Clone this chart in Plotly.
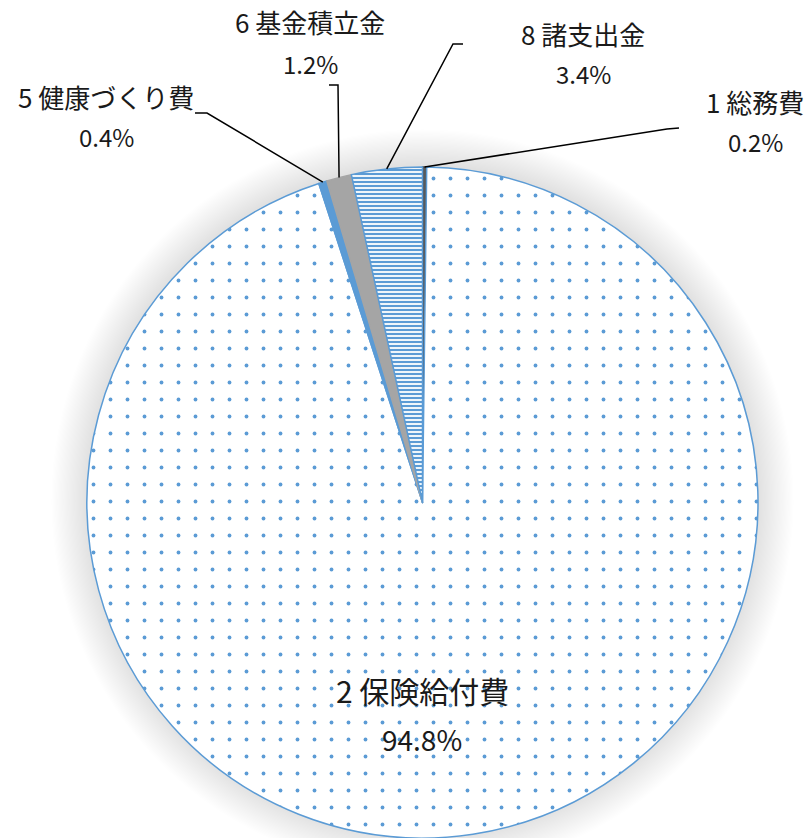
import math
import plotly.graph_objects as go

# ---- data ----
categories = ["1 総務費", "2 保険給付費", "5 健康づくり費", "6 基金積立金", "8 諸支出金"]
values = [0.2, 94.8, 0.4, 1.2, 3.4]

# ---- styles ----
slice_colors = ["#595959", "#FFFFFF", "#5B9BD5", "#A5A5A5", "#FFFFFF"]
pattern_shapes = ["", ".", "", "", "-"]
pattern_fg = ["#595959", "#5B9BD5", "#5B9BD5", "#A5A5A5", "#5B9BD5"]
pattern_bg = ["#595959", "#FFFFFF", "#5B9BD5", "#A5A5A5", "#FFFFFF"]
pattern_size = [8, 17, 8, 8, 4]
pattern_solidity = [0.3, 0.04, 0.12, 0.3, 0.55]
line_colors = ["#404040", "#5B9BD5", "#5B9BD5", "#A5A5A5", "#5B9BD5"]

W, H = 810, 838
FONT = "Noto Sans CJK JP"
TXT = "#1A1A1A"

# pie domain (pixels)
px_left, px_right = 87, 758
py_top, py_bottom = 167, 838
dom_x = [px_left / W, px_right / W]
dom_y = [1 - py_bottom / H, 1 - py_top / H]

cx = (px_left + px_right) / 2
cy = (py_top + py_bottom) / 2
R = min(px_right - px_left, py_bottom - py_top) / 2

fig = go.Figure(go.Pie(
    labels=categories,
    values=values,
    sort=False,
    direction="clockwise",
    rotation=0,
    textinfo="none",
    hoverinfo="label+percent",
    domain=dict(x=dom_x, y=dom_y),
    marker=dict(
        colors=slice_colors,
        line=dict(color=line_colors, width=1.5),
        pattern=dict(shape=pattern_shapes, fgcolor=pattern_fg, bgcolor=pattern_bg,
                     size=pattern_size, solidity=pattern_solidity,
                     fillmode="replace"),
    ),
    showlegend=False,
))

def to_paper(x, y):
    return x / W, 1 - y / H

shapes = []
# soft shadow glow behind the pie
N = 30
for k in range(N, 0, -1):
    rr = R + k * 1.2
    x0, y0 = to_paper(cx - rr, cy - rr - 2)
    x1, y1 = to_paper(cx + rr, cy + rr - 2)
    shapes.append(dict(type="circle", xref="paper", yref="paper",
                       x0=x0, x1=x1, y0=y1, y1=y0,
                       fillcolor="rgba(0,0,0,0.0048)", line=dict(width=0),
                       layer="below"))

# label layout: (name line center, pct line center, elbow point, elbow end)
label_layout = {
    "1 総務費": dict(name=(755, 101), pct=(755, 142), elbow=(667, 129), tail=(679, 128)),
    "8 諸支出金": dict(name=(583, 34), pct=(583, 74), elbow=(453, 44), tail=(463, 44)),
    "6 基金積立金": dict(name=(310, 22), pct=(310, 63), elbow=(338, 85), tail=(329, 85)),
    "5 健康づくり費": dict(name=(106, 96), pct=(106, 136), elbow=(207, 113), tail=(195, 113)),
}

total = sum(values)
cum = 0.0
annotations = []
for cat, v in zip(categories, values):
    mid = (cum + v / 2) / total * 2 * math.pi
    cum += v
    if cat not in label_layout:
        continue
    L = label_layout[cat]
    sx = cx + R * math.sin(mid)
    sy = cy - R * math.cos(mid)
    pts = [to_paper(sx, sy), to_paper(*L["elbow"]), to_paper(*L["tail"])]
    path = "M {} {} L {} {} L {} {}".format(pts[0][0], pts[0][1], pts[1][0], pts[1][1], pts[2][0], pts[2][1])
    shapes.append(dict(type="path", xref="paper", yref="paper", path=path,
                       line=dict(color="#000000", width=1.5)))
    for key, txt, fs in (("name", cat, 26), ("pct", f"{v:.1f}%", 24)):
        x, y = to_paper(*L[key])
        annotations.append(dict(x=x, y=y, xref="paper", yref="paper", text=txt,
                                showarrow=False, xanchor="center", yanchor="middle",
                                font=dict(family=FONT, size=fs, color=TXT)))

# big label for main slice
for txt, y, fs in ((categories[1], 690, 30), (f"{values[1]:.1f}%", 739, 28)):
    x, yy = to_paper(422, y)
    annotations.append(dict(x=x, y=yy, xref="paper", yref="paper", text=txt,
                            showarrow=False, xanchor="center", yanchor="middle",
                            font=dict(family=FONT, size=fs, color=TXT)))

fig.update_layout(
    width=W, height=H,
    margin=dict(l=0, r=0, t=0, b=0),
    paper_bgcolor="#FFFFFF",
    plot_bgcolor="#FFFFFF",
    shapes=shapes,
    annotations=annotations,
    font=dict(family=FONT),
)

fig.write_html("out.html",
               config={"displayModeBar": False},
               post_script="document.body.style.margin='0';document.body.style.overflow='hidden';")
